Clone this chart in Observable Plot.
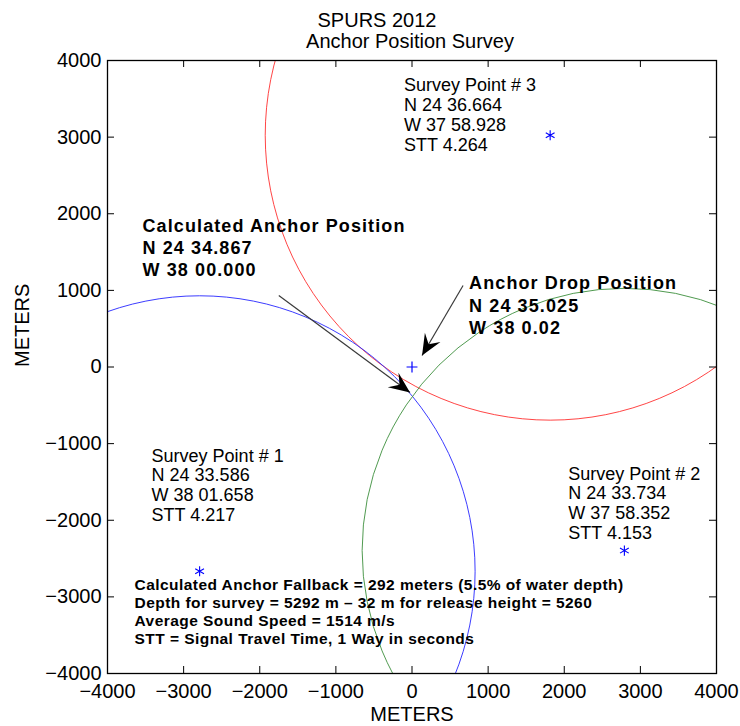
<!DOCTYPE html>
<html>
<head>
<meta charset="utf-8">
<script src="https://cdn.jsdelivr.net/npm/d3@7"></script>
<script src="https://cdn.jsdelivr.net/npm/@observablehq/plot@0.6"></script>
<style>
  html, body { margin: 0; padding: 0; background: #fff; }
  #chart svg { display: block; }
</style>
</head>
<body>
<div id="chart"></div>
<script>
// ---------- data ----------
const xTicks = [-4000, -3000, -2000, -1000, 0, 1000, 2000, 3000, 4000];
const yTicks = [-4000, -3000, -2000, -1000, 0, 1000, 2000, 3000, 4000];

const titleLines = ["SPURS 2012", "Anchor Position Survey"];
const axisLabel = "METERS";

const surveyNames = ["Survey Point # 1", "Survey Point # 2", "Survey Point # 3"];
const surveyX = [-2790, 2790, 1815];
const surveyY = [-2666, -2396, 3025];
const surveyLat = ["N 24 33.586", "N 24 33.734", "N 24 36.664"];
const surveyLon = ["W 38 01.658", "W 37 58.352", "W 37 58.928"];
const surveySTT = ["STT 4.217", "STT 4.153", "STT 4.264"];
const rangeRadius = [3619, 3445, 3743];       // horizontal slant range (m)
const surveyLabelX = [-3421, 2053, -105];
const surveyLabelY = [-1051, -1286, 3780];

const dropX = [0];
const dropY = [0];
const dropLabel = ["Anchor Drop Position", "N 24 35.025", "W 38 0.02"];
const dropLabelX = [750];
const dropLabelY = [1220];
const dropArrowFrom = [671, 1064];
const dropArrowTo = [132, 150];

const calcLabel = ["Calculated Anchor Position", "N 24 34.867", "W 38 00.000"];
const calcLabelX = [-3540];
const calcLabelY = [1975];
const calcArrowFrom = [-1750, 933];
const calcArrowTo = [-26, -333];

const noteLines = [
  "Calculated Anchor Fallback = 292 meters (5.5% of water depth)",
  "Depth for survey = 5292 m \u2013 32 m for release height = 5260",
  "Average Sound Speed = 1514 m/s",
  "STT = Signal Travel Time, 1 Way in seconds"
];
const noteX = [-3645];
const noteY = [-2748];

// ---------- layout ----------
const W = 740, H = 726, mL = 107, mR = 24, mT = 60, mB = 53;
const innerW = W - mL - mR, innerH = H - mT - mB;
const kx = innerW / 8000, ky = innerH / 8000;
const FONT = "'Liberation Sans', Arial, Helvetica, sans-serif";

// ---------- tables ----------
const points = surveyNames.map((name, i) => ({
  name, x: surveyX[i], y: surveyY[i], r: rangeRadius[i],
  label: [name, surveyLat[i], surveyLon[i], surveySTT[i]].join("\n"),
  lx: surveyLabelX[i], ly: surveyLabelY[i]
}));
const drop = dropX.map((x, i) => ({x, y: dropY[i]}));
const arrows = [
  {x1: calcArrowFrom[0], y1: calcArrowFrom[1], x2: calcArrowTo[0], y2: calcArrowTo[1]},
  {x1: dropArrowFrom[0], y1: dropArrowFrom[1], x2: dropArrowTo[0], y2: dropArrowTo[1]}
].map(a => ({...a, angle: Math.atan2((a.x2 - a.x1) * kx, (a.y2 - a.y1) * ky) * 180 / Math.PI}));
const boldLabels = [
  {x: calcLabelX[0], y: calcLabelY[0], text: calcLabel.join("\n")},
  {x: dropLabelX[0], y: dropLabelY[0], text: dropLabel.join("\n")}
];
const notes = [{x: noteX[0], y: noteY[0], text: noteLines.join("\n")}];

// notched (MATLAB-style) arrow head, tip at origin, pointing up
const arrowHead = {
  draw(ctx) {
    const L = 21, Wd = 9, N = 13;
    ctx.moveTo(0, 0);
    ctx.lineTo(-Wd, L);
    ctx.lineTo(0, N);
    ctx.lineTo(Wd, L);
    ctx.closePath();
  }
};

const chart = Plot.plot({
  width: W, height: H,
  marginLeft: mL, marginRight: mR, marginTop: mT, marginBottom: mB,
  style: {fontFamily: FONT, background: "white", color: "black", overflow: "visible"},
  x: {domain: [-4000, 4000], label: null},
  y: {domain: [-4000, 4000], label: null},
  r: {type: "linear", domain: [0, 8000], range: [0, innerW]},
  color: {domain: surveyNames, range: ["#2626ff", "#3c8f3c", "#ff3030"]},
  marks: [
    // range circles
    Plot.dot(points, {x: "x", y: "y", r: "r", stroke: "name", fill: "none", strokeWidth: 0.9, clip: "frame"}),
    // inward ticks on all four sides
    Plot.tickX(xTicks, {x: d => d, insetTop: innerH - 7, stroke: "black", strokeWidth: 1}),
    Plot.tickX(xTicks, {x: d => d, insetBottom: innerH - 7, stroke: "black", strokeWidth: 1}),
    Plot.tickY(yTicks, {y: d => d, insetRight: innerW - 7, stroke: "black", strokeWidth: 1}),
    Plot.tickY(yTicks, {y: d => d, insetLeft: innerW - 7, stroke: "black", strokeWidth: 1}),
    Plot.frame({stroke: "black", strokeWidth: 1.3}),
    // tick labels
    Plot.axisX(xTicks, {anchor: "bottom", tickSize: 0, tickPadding: 10, fontSize: 20, label: null, tickFormat: d3.format("d")}),
    Plot.axisY(yTicks, {anchor: "left", tickSize: 0, tickPadding: 6, fontSize: 20, label: null, tickFormat: d3.format("d")}),
    // axis labels
    Plot.text([axisLabel], {frameAnchor: "bottom", dy: 41, lineAnchor: "middle", fontSize: 20}),
    Plot.text([axisLabel], {frameAnchor: "left", dx: -85, rotate: -90, lineAnchor: "middle", fontSize: 20}),
    // title
    Plot.text([titleLines[0]], {frameAnchor: "top", dx: -35, dy: -40, lineAnchor: "middle", fontSize: 20}),
    Plot.text([titleLines[1]], {frameAnchor: "top", dx: -2, dy: -19, lineAnchor: "middle", fontSize: 20}),
    // annotation arrows
    Plot.link(arrows, {x1: "x1", y1: "y1", x2: "x2", y2: "y2", stroke: "#3a3a3a", strokeWidth: 1.2}),
    Plot.dot(arrows, {x: "x2", y: "y2", symbol: arrowHead, rotate: "angle", fill: "black", stroke: "none", r: 5}),
    // markers
    Plot.dot(points, {x: "x", y: "y", symbol: "asterisk", stroke: "#0000ff", r: 4.8, strokeWidth: 1.1}),
    Plot.dot(drop, {x: "x", y: "y", symbol: "plus", stroke: "#0000ff", r: 3.6, strokeWidth: 1.2}),
    // annotation texts
    Plot.text(points, {x: "lx", y: "ly", text: "label", textAnchor: "start", lineAnchor: "top", fontSize: 18, lineHeight: 1.1, fill: "black"}),
    Plot.text(boldLabels, {x: "x", y: "y", text: "text", textAnchor: "start", lineAnchor: "top", fontSize: 18, fontWeight: "bold", lineHeight: 1.24, fill: "black"}),
    Plot.text(notes, {x: "x", y: "y", text: "text", textAnchor: "start", lineAnchor: "top", fontSize: 15.5, fontWeight: "bold", lineHeight: 1.16, fill: "black"})
  ]
});

// letter spacing for MATLAB-like bold annotation text
chart.querySelectorAll('g[font-weight="bold"]').forEach(g => {
  const fs = +g.getAttribute("font-size");
  g.style.letterSpacing = fs >= 17 ? "1.1px" : "0.45px";
});

document.getElementById("chart").append(chart);
</script>
</body>
</html>
